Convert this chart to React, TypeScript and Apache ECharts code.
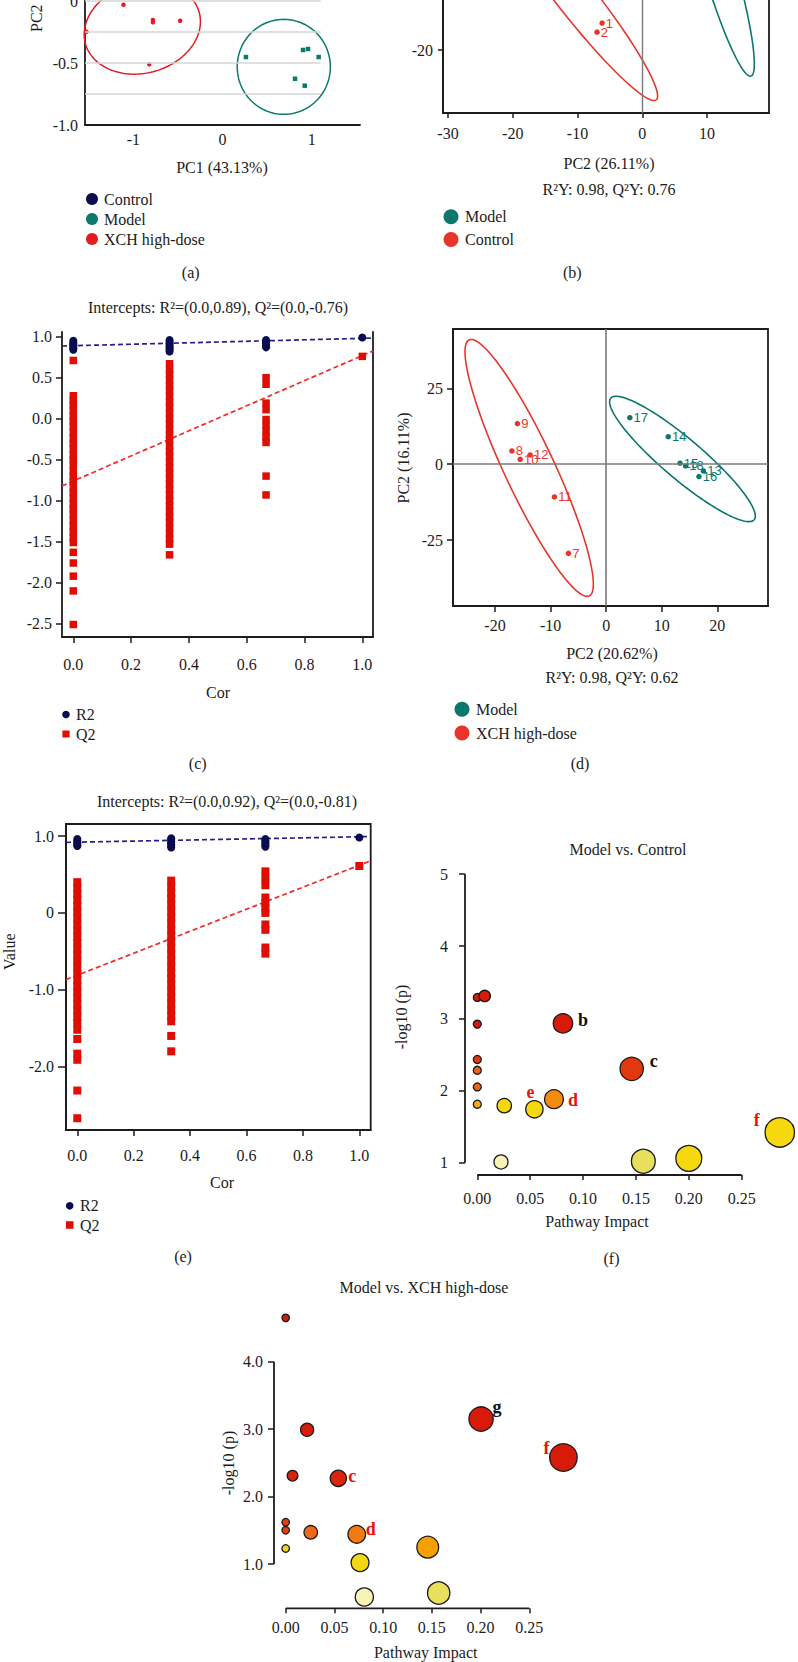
import React, { useEffect, useRef } from "react";
import * as echarts from "echarts";

const SERIF = '"Liberation Serif","Times New Roman",serif';
const SANS = '"Liberation Sans",Arial,sans-serif';
const INK = "#1c1c1c";

// ---------- (a) PCA ----------
const aXCH = [[-1.11, -0.03], [-1.525, -0.248], [-0.78, -0.153], [-0.78, -0.172], [-0.475, -0.159], [-0.821, -0.511]];
const aModel = [[0.263, -0.452], [0.903, -0.395], [0.959, -0.387], [1.078, -0.452], [0.813, -0.627], [0.922, -0.683]];
// ellipse: centre x, centre y, semi-axis vector u (x,y), semi-axis vector v (x,y)
const aEllipses = [[-0.899, -0.218, 0.64, 0.12, 0.122, -0.352], [0.687, -0.531, 0.522, 0, 0, -0.383]];
const aGridY = [0, -0.25, -0.5, -0.75];
const aGridEndX = 1.1;
const aXTicks = [-1, 0, 1];
const aYTicks = [-1, -0.5, 0];

// ---------- (b) PLS-DA Model vs Control ----------
const bControl = [[-6.2, -12.3], [-6.98, -14.9]];
const bControlIds = ["1", "2"];
const bEllipses = [[-10.2, -5.14, 12.36, -29.1, 2.31, 3.34], [11.6, 5.43, 5.19, -32.9, 2.38, 1.29]];
const bXTicks = [-30, -20, -10, 0, 10];
const bYTicks = [-20];

// ---------- (c) permutation test ----------
const cCor = [0, 0.333, 0.667, 1];
const cR2 = [
  [0.95, 0.93, 0.91, 0.9, 0.88, 0.86, 0.84],
  [0.96, 0.94, 0.92, 0.9, 0.88, 0.86, 0.84, 0.82],
  [0.96, 0.94, 0.92, 0.9, 0.88, 0.87],
  [0.99],
];
const cQ2 = [
  [0.71, 0.28, 0.22, 0.16, 0.1, 0.03, -0.03, -0.1, -0.17, -0.24, -0.3, -0.37, -0.44, -0.5, -0.57, -0.64, -0.7, -0.77, -0.84, -0.9, -0.97, -1.04, -1.1, -1.17, -1.24, -1.31, -1.38, -1.45, -1.51, -1.63, -1.76, -1.92, -2.1, -2.51],
  [0.67, 0.6, 0.54, 0.47, 0.4, 0.34, 0.27, 0.2, 0.14, 0.07, 0, -0.06, -0.13, -0.2, -0.26, -0.33, -0.4, -0.46, -0.53, -0.6, -0.66, -0.73, -0.8, -0.86, -0.93, -1.0, -1.06, -1.13, -1.2, -1.26, -1.33, -1.4, -1.47, -1.53, -1.66],
  [0.5, 0.42, 0.19, 0.11, -0.01, -0.08, -0.15, -0.22, -0.29, -0.7, -0.93],
  [0.76],
];
const cR2Fit = [0.89, 0.98];
const cQ2Fit = [-0.76, 0.77];
const cXTicks = [0, 0.2, 0.4, 0.6, 0.8, 1];
const cYTicks = [-2.5, -2, -1.5, -1, -0.5, 0, 0.5, 1];

// ---------- (d) PLS-DA Model vs XCH ----------
const dXCH = [[-6.78, -29.4], [-16.96, 4.35], [-15.96, 13.35], [-15.47, 1.6], [-9.3, -10.8], [-13.67, 3.03]];
const dXCHIds = ["7", "8", "9", "10", "11", "12"];
const dModel = [[17.5, -2.24], [11.17, 9.06], [13.3, 0.3], [16.7, -4.1], [4.26, 15.3], [14.3, -0.6]];
const dModelIds = ["13", "14", "15", "16", "17", "18"];
const dEllipses = [[-13.85, -1.25, 10.8, -42.2, 4.08, 3.49], [13.73, 1.71, 12.9, -20.04, 2.33, 5.03]];
const dXTicks = [-20, -10, 0, 10, 20];
const dYTicks = [-25, 0, 25];

// ---------- (e) permutation test ----------
const eCor = [0, 0.333, 0.667, 1];
const eR2 = [
  [0.96, 0.94, 0.92, 0.9, 0.88, 0.87],
  [0.97, 0.95, 0.93, 0.91, 0.89, 0.87, 0.85],
  [0.96, 0.94, 0.92, 0.9, 0.88, 0.86],
  [0.98],
];
const eQ2 = [
  [0.4, 0.32, 0.24, 0.17, 0.09, 0.01, -0.07, -0.15, -0.23, -0.31, -0.39, -0.47, -0.55, -0.63, -0.71, -0.79, -0.87, -0.95, -1.03, -1.11, -1.19, -1.27, -1.35, -1.43, -1.52, -1.64, -1.83, -1.91, -2.31, -2.67],
  [0.42, 0.34, 0.26, 0.18, 0.1, 0.02, -0.06, -0.14, -0.22, -0.3, -0.38, -0.46, -0.54, -0.62, -0.7, -0.78, -0.86, -0.94, -1.02, -1.1, -1.18, -1.26, -1.34, -1.41, -1.6, -1.8],
  [0.54, 0.45, 0.36, 0.2, 0.13, 0.06, 0, -0.15, -0.22, -0.45, -0.53],
  [0.61],
];
const eR2Fit = [0.92, 0.99];
const eQ2Fit = [-0.81, 0.62];
const eXTicks = [0, 0.2, 0.4, 0.6, 0.8, 1];
const eYTicks = [-2, -1, 0, 1];

// ---------- (f) pathway analysis Model vs Control ----------
const fImpact = [0, 0.007, 0, 0, 0, 0, 0, 0.0255, 0.054, 0.0725, 0.081, 0.146, 0.0224, 0.157, 0.2, 0.286];
const fLogP = [3.29, 3.31, 2.92, 2.43, 2.28, 2.05, 1.81, 1.79, 1.74, 1.88, 2.93, 2.3, 1.01, 1.02, 1.06, 1.42];
const fTags = ["", "", "", "", "", "", "", "", "e", "d", "b", "c", "", "", "", "f"];
const fXTicks = [0, 0.05, 0.1, 0.15, 0.2, 0.25];
const fYTicks = [1, 2, 3, 4, 5];

// ---------- (g) pathway analysis Model vs XCH high-dose ----------
const gImpact = [0, 0.022, 0.007, 0.054, 0, 0, 0, 0.0257, 0.0729, 0.0763, 0.0807, 0.1458, 0.157, 0.2005, 0.285];
const gLogP = [4.65, 2.99, 2.31, 2.27, 1.62, 1.5, 1.23, 1.47, 1.44, 1.02, 0.51, 1.25, 0.57, 3.15, 2.58];
const gTags = ["", "", "", "c", "", "", "", "", "d", "", "", "", "", "g", "f"];
const gXTicks = [0, 0.05, 0.1, 0.15, 0.2, 0.25];
const gYTicks = [1, 2, 3, 4];

// ---------- styles ----------
const RED_A = "#e31b23", GREEN_A = "#0b7a6a", NAVY_A = "#0d0d4b";
const RED_B = "#e8352b", GREEN_B = "#0a786d";
const NAVY = "#0b0b50", QRED = "#e00e00";
const FIT_NAVY = "#22228a", FIT_RED = "#f22a2a";
const TAG_RED = "#e8140c";
const TAG_STYLE: Record<string, Record<string, { color: string; offset: number[] }>> = {
  f: { b: { color: "#111", offset: [20, -3] }, c: { color: "#111", offset: [22, -8] }, d: { color: TAG_RED, offset: [19, 1] }, e: { color: TAG_RED, offset: [-4, -17] }, f: { color: TAG_RED, offset: [-23, -12] } },
  g: { c: { color: TAG_RED, offset: [14, -2] }, d: { color: TAG_RED, offset: [14, -5] }, g: { color: "#111", offset: [16, -12] }, f: { color: TAG_RED, offset: [-17, -9] } },
};
const F_PIECES = [
  { lt: 1.015, color: "#f7f3b8" }, { gte: 1.015, lt: 1.04, color: "#e8e05c" }, { gte: 1.04, lt: 1.8, color: "#f6d80e" },
  { gte: 1.8, lt: 1.85, color: "#f5a818" }, { gte: 1.85, lt: 2.0, color: "#f58a10" }, { gte: 2.0, lt: 2.29, color: "#ec6412" },
  { gte: 2.29, lt: 2.6, color: "#e2380e" }, { gte: 2.6, color: "#d91a0a" },
];
const G_PIECES = [
  { lt: 0.54, color: "#f7f3b8" }, { gte: 0.54, lt: 0.9, color: "#e8e05c" }, { gte: 0.9, lt: 1.245, color: "#f2d812" },
  { gte: 1.245, lt: 1.35, color: "#f5a000" }, { gte: 1.35, lt: 1.455, color: "#f27a12" }, { gte: 1.455, lt: 1.49, color: "#ee6a18" },
  { gte: 1.49, lt: 1.7, color: "#e4400e" }, { gte: 1.7, lt: 2.4, color: "#dc240c" }, { gte: 2.4, color: "#d81a0a" },
];

// ---------- layout: grid box [left, top, right, bottom] and two pixel/value calibration pairs ----------
type Lay = { box: number[]; x: number[]; y: number[] };
const LAY: Record<string, Lay> = {
  a: { box: [85, -40, 360, 125], x: [133.3, -1, 311.7, 1], y: [1, 0, 125, -1] },
  b: { box: [443, -100, 769, 113], x: [448, -30, 707, 10], y: [50, -20, -20, 0] },
  c: { box: [62, 332, 373, 637], x: [73.3, 0, 362.3, 1], y: [336.7, 1, 623.7, -2.5] },
  d: { box: [453, 329, 768, 606], x: [495, -20, 717.3, 20], y: [388.3, 25, 540, -25] },
  e: { box: [66, 824, 370.7, 1130], x: [77.3, 0, 359.3, 1], y: [836, 1, 1066.7, -2] },
  f: { box: [465, 855, 798, 1175], x: [477.3, 0, 741.7, 0.25], y: [874, 5, 1162.7, 1] },
  g: { box: [274, 1295, 600, 1608.3], x: [285.7, 0, 529.3, 0.25], y: [1361.7, 4, 1564, 1] },
};
const ORDER = ["a", "b", "c", "d", "e", "f", "g"];

function cal(p0: number, v0: number, p1: number, v1: number, e0: number, e1: number): [number, number] {
  const k = (v1 - v0) / (p1 - p0);
  const a = v0 + (e0 - p0) * k;
  const b = v0 + (e1 - p0) * k;
  return [Math.min(a, b), Math.max(a, b)];
}
const XR: Record<string, [number, number]> = {};
const YR: Record<string, [number, number]> = {};
ORDER.forEach((k) => {
  const l = LAY[k];
  XR[k] = cal(l.x[0], l.x[1], l.x[2], l.x[3], l.box[0], l.box[2]);
  YR[k] = cal(l.y[0], l.y[1], l.y[2], l.y[3], l.box[1], l.box[3]);
});

const fmtDec = (d: number) => (v: number) => v.toFixed(d);
const fmtZero1 = (v: number) => (v === 0 ? "0" : v.toFixed(1));
const fmtPlain = (v: number) => String(v);

function axis(kind: "x" | "y", gi: number, range: [number, number], ticks: number[], fmt: (v: number) => string, o: { margin: number; line?: boolean; tick?: boolean; tickLen?: number }) {
  return {
    type: "value",
    gridIndex: gi,
    min: range[0],
    max: range[1],
    position: kind === "x" ? "bottom" : "left",
    axisLine: { show: o.line !== false, onZero: false, lineStyle: { color: INK, width: 1.8 } },
    axisTick: { show: o.tick !== false, customValues: ticks, length: o.tickLen ?? 5, lineStyle: { color: INK, width: 1.5 } },
    axisLabel: { show: true, customValues: ticks, formatter: fmt, margin: o.margin, color: INK, fontSize: 16, fontFamily: SERIF },
    splitLine: { show: false },
  };
}

const flatten = (xs: number[], cols: number[][]) => cols.flatMap((col, i) => col.map((v) => [xs[i], v]));
const fit = (pair: number[], range: [number, number]) => [
  [range[0], pair[0] + (pair[1] - pair[0]) * range[0]],
  [range[1], pair[0] + (pair[1] - pair[0]) * range[1]],
];

const ellipse = (colors: string[], lw: number) => (params: any, api: any) => {
  const cx = api.value(0), cy = api.value(1), ux = api.value(2), uy = api.value(3), vx = api.value(4), vy = api.value(5);
  const pts: number[][] = [];
  for (let i = 0; i <= 160; i++) {
    const t = (i / 160) * Math.PI * 2;
    pts.push(api.coord([cx + ux * Math.cos(t) + vx * Math.sin(t), cy + uy * Math.cos(t) + vy * Math.sin(t)]));
  }
  return { type: "polyline", shape: { points: pts }, style: { stroke: colors[params.dataIndex], fill: "none", lineWidth: lw }, silent: true };
};

const axisFrame = (xt: number[], yt: number[]) => (params: any, api: any) => {
  const cs = params.coordSys;
  const yb = cs.y + cs.height;
  const x0 = api.coord([xt[0], yt[0]])[0];
  const x1 = api.coord([xt[xt.length - 1], yt[0]])[0];
  const y0 = api.coord([xt[0], yt[0]])[1];
  const y1 = api.coord([xt[0], yt[yt.length - 1]])[1];
  return {
    type: "group",
    children: [
      { type: "line", shape: { x1: x0, y1: yb, x2: x1, y2: yb }, style: { stroke: INK, lineWidth: 1.8 } },
      { type: "line", shape: { x1: cs.x, y1: y0, x2: cs.x, y2: y1 }, style: { stroke: INK, lineWidth: 1.8 } },
    ],
  };
};

const pointLabel = (color: string) => ({ show: true, position: "right", distance: 1, formatter: "{b}", color, fontSize: 13, fontFamily: SANS, opacity: 1 });

function bubbles(panel: string, impact: number[], logp: number[], tags: string[]) {
  return impact.map((x, i) => {
    const item: any = { value: [x, logp[i]] };
    const tg = tags[i];
    if (tg) {
      const st = TAG_STYLE[panel][tg];
      item.label = { show: true, position: "inside", formatter: tg, color: st.color, offset: st.offset, fontSize: 18, fontWeight: "bold", fontFamily: SERIF };
    }
    return item;
  });
}

function buildOption() {
  const grid = ORDER.map((k) => {
    const b = LAY[k].box;
    const show = k === "b" || k === "d" || k === "e";
    return { left: b[0], top: b[1], width: b[2] - b[0], height: b[3] - b[1], show, borderColor: INK, borderWidth: 1.8, backgroundColor: "transparent", containLabel: false, outerBoundsMode: "none" };
  });

  const xAxis = [
    axis("x", 0, XR.a, aXTicks, fmtPlain, { margin: 6, tick: false }),
    axis("x", 1, XR.b, bXTicks, fmtPlain, { margin: 12 }),
    axis("x", 2, XR.c, cXTicks, fmtDec(1), { margin: 19, tickLen: 6 }),
    axis("x", 3, XR.d, dXTicks, fmtPlain, { margin: 11, tickLen: 6 }),
    axis("x", 4, XR.e, eXTicks, fmtDec(1), { margin: 17, tickLen: 6 }),
    axis("x", 5, XR.f, fXTicks, fmtDec(2), { margin: 15, line: false, tickLen: 5 }),
    axis("x", 6, XR.g, gXTicks, fmtDec(2), { margin: 11, line: false, tickLen: 5 }),
  ];
  const yAxis: any[] = [
    axis("y", 0, YR.a, aYTicks, fmtZero1, { margin: 7, tick: false }),
    axis("y", 1, YR.b, bYTicks, fmtPlain, { margin: 10 }),
    axis("y", 2, YR.c, cYTicks, fmtDec(1), { margin: 10, tickLen: 6 }),
    axis("y", 3, YR.d, dYTicks, fmtPlain, { margin: 10, tickLen: 6 }),
    axis("y", 4, YR.e, eYTicks, fmtZero1, { margin: 12, tickLen: 8 }),
    axis("y", 5, YR.f, fYTicks, fmtPlain, { margin: 17, line: false, tickLen: 6 }),
    axis("y", 6, YR.g, gYTicks, fmtDec(1), { margin: 11, line: false, tickLen: 6 }),
  ];
  // right border line of panel (c)
  yAxis.push({ type: "value", gridIndex: 2, position: "right", min: YR.c[0], max: YR.c[1], axisLine: { show: true, onZero: false, lineStyle: { color: INK, width: 1.8 } }, axisTick: { show: false }, axisLabel: { show: false }, splitLine: { show: false } });

  const series: any[] = [];
  const idx: Record<string, number> = {};
  const add = (s: any, name?: string) => {
    if (name) idx[name] = series.length;
    series.push(s);
  };
  const solid = (color: string, extra: any = {}) => ({ color, opacity: 1, ...extra });

  // (a)
  add({ type: "custom", xAxisIndex: 0, yAxisIndex: 0, data: aEllipses, renderItem: ellipse([RED_A, GREEN_A], 1.5), z: 2, silent: true });
  add({
    type: "scatter", xAxisIndex: 0, yAxisIndex: 0, data: aXCH, symbol: "circle", symbolSize: 4.5, itemStyle: solid(RED_A), z: 3, silent: true,
    markLine: { silent: true, symbol: ["none", "none"], label: { show: false }, lineStyle: { color: "#d6d6d6", width: 1.5, type: "solid" }, data: aGridY.map((y) => [{ coord: [XR.a[0], y] }, { coord: [aGridEndX, y] }]) },
  });
  add({ type: "scatter", xAxisIndex: 0, yAxisIndex: 0, data: aModel, symbol: "rect", symbolSize: 4.5, itemStyle: solid(GREEN_A), z: 3, silent: true });

  // (b)
  add({ type: "custom", xAxisIndex: 1, yAxisIndex: 1, data: bEllipses, renderItem: ellipse([RED_B, GREEN_B], 1.6), z: 2, silent: true });
  add({
    type: "scatter", xAxisIndex: 1, yAxisIndex: 1, data: bControl.map((v, i) => ({ value: v, name: bControlIds[i] })), symbol: "circle", symbolSize: 5.5,
    itemStyle: solid(RED_B), label: pointLabel(RED_B), z: 3, silent: true,
    markLine: { silent: true, symbol: ["none", "none"], label: { show: false }, lineStyle: { color: "#7a7a7a", width: 1.4, type: "solid" }, data: [{ xAxis: 0 }, { yAxis: 0 }] },
  });

  // (c)
  add({ type: "line", xAxisIndex: 2, yAxisIndex: 2, data: fit(cR2Fit, XR.c), showSymbol: false, symbol: "none", lineStyle: { color: FIT_NAVY, width: 1.7, type: [5, 3] }, z: 2, silent: true });
  add({ type: "line", xAxisIndex: 2, yAxisIndex: 2, data: fit(cQ2Fit, XR.c), showSymbol: false, symbol: "none", lineStyle: { color: FIT_RED, width: 1.7, type: [5, 3] }, z: 2, silent: true });
  add({ type: "scatter", xAxisIndex: 2, yAxisIndex: 2, data: flatten(cCor, cR2), symbol: "circle", symbolSize: 8, itemStyle: solid(NAVY), z: 3, silent: true });
  add({ type: "scatter", xAxisIndex: 2, yAxisIndex: 2, data: flatten(cCor, cQ2), symbol: "rect", symbolSize: 7.5, itemStyle: solid(QRED), z: 3, silent: true });

  // (d)
  add({ type: "custom", xAxisIndex: 3, yAxisIndex: 3, data: dEllipses, renderItem: ellipse([RED_B, GREEN_B], 1.6), z: 2, silent: true });
  add({
    type: "scatter", xAxisIndex: 3, yAxisIndex: 3, data: dXCH.map((v, i) => ({ value: v, name: dXCHIds[i] })), symbol: "circle", symbolSize: 5.5,
    itemStyle: solid(RED_B), label: pointLabel(RED_B), z: 3, silent: true,
    markLine: { silent: true, symbol: ["none", "none"], label: { show: false }, lineStyle: { color: "#7a7a7a", width: 1.6, type: "solid" }, data: [{ xAxis: 0 }, { yAxis: 0 }] },
  });
  add({ type: "scatter", xAxisIndex: 3, yAxisIndex: 3, data: dModel.map((v, i) => ({ value: v, name: dModelIds[i] })), symbol: "circle", symbolSize: 5.5, itemStyle: solid(GREEN_B), label: pointLabel(GREEN_B), z: 3, silent: true });

  // (e)
  add({ type: "line", xAxisIndex: 4, yAxisIndex: 4, data: fit(eR2Fit, XR.e), showSymbol: false, symbol: "none", lineStyle: { color: FIT_NAVY, width: 1.7, type: [5, 3] }, z: 2, silent: true });
  add({ type: "line", xAxisIndex: 4, yAxisIndex: 4, data: fit(eQ2Fit, XR.e), showSymbol: false, symbol: "none", lineStyle: { color: FIT_RED, width: 1.7, type: [5, 3] }, z: 2, silent: true });
  add({ type: "scatter", xAxisIndex: 4, yAxisIndex: 4, data: flatten(eCor, eR2), symbol: "circle", symbolSize: 8, itemStyle: solid(NAVY), z: 3, silent: true });
  add({ type: "scatter", xAxisIndex: 4, yAxisIndex: 4, data: flatten(eCor, eQ2), symbol: "rect", symbolSize: 8, itemStyle: solid(QRED), z: 3, silent: true });

  // (f)
  add({ type: "custom", xAxisIndex: 5, yAxisIndex: 5, data: [[fXTicks[0], fYTicks[0]]], renderItem: axisFrame(fXTicks, fYTicks), z: 1, silent: true });
  add({
    type: "scatter", xAxisIndex: 5, yAxisIndex: 5, data: bubbles("f", fImpact, fLogP, fTags), symbol: "circle",
    symbolSize: (v: number[]) => 8 + 40 * Math.sqrt(v[0]), itemStyle: solid("#f6d80e", { borderColor: "#1a1a1a", borderWidth: 1.3 }), z: 3, silent: true,
  }, "f");

  // (g)
  add({ type: "custom", xAxisIndex: 6, yAxisIndex: 6, data: [[gXTicks[0], gYTicks[0]]], renderItem: axisFrame(gXTicks, gYTicks), z: 1, silent: true });
  add({
    type: "scatter", xAxisIndex: 6, yAxisIndex: 6, data: bubbles("g", gImpact, gLogP, gTags), symbol: "circle",
    symbolSize: (v: number[]) => 7.5 + 37.5 * Math.sqrt(v[0]), itemStyle: solid("#f6d80e", { borderColor: "#1a1a1a", borderWidth: 1.3 }), z: 3, silent: true,
  }, "g");

  const visualMap = [
    { type: "piecewise", show: false, seriesIndex: idx.f, dimension: 1, pieces: F_PIECES, inRange: { opacity: 1 } },
    { type: "piecewise", show: false, seriesIndex: idx.g, dimension: 1, pieces: G_PIECES, inRange: { opacity: 1 } },
  ];

  // ---------- texts, legends ----------
  const T = (text: string, x: number, y: number, o: any = {}) => ({
    type: "text", x, y, rotation: o.rot ? Math.PI / 2 : 0, z: 10, silent: true,
    style: { text, fill: INK, fontSize: o.size ?? 16, fontFamily: SERIF, align: o.align ?? "center", verticalAlign: "middle", textAlign: o.align ?? "center", textVerticalAlign: "middle" },
  });
  const LC = (color: string, label: string, x: number, y: number, r: number, tx: number, square = false) => [
    square
      ? { type: "rect", shape: { x: x - r, y: y - r, width: 2 * r, height: 2 * r }, style: { fill: color }, z: 10, silent: true }
      : { type: "circle", shape: { cx: x, cy: y, r }, style: { fill: color }, z: 10, silent: true },
    T(label, tx, y, { align: "left" }),
  ];

  const elements: any[] = [
    // (a)
    T("PC2", 36, 32, { rot: true, align: "left" }),
    T("PC1 (43.13%)", 222, 167),
    ...LC(NAVY_A, "Control", 92, 199, 6, 104),
    ...LC(GREEN_A, "Model", 92, 219, 6, 104),
    ...LC(RED_A, "XCH high-dose", 92, 239, 6, 104),
    T("(a)", 190.7, 272.7),
    // (b)
    T("PC2 (26.11%)", 609, 163),
    T("R²Y: 0.98, Q²Y: 0.76", 609, 189),
    ...LC(GREEN_B, "Model", 451, 216.7, 7.5, 465),
    ...LC(RED_B, "Control", 451, 239.5, 7.5, 465),
    T("(b)", 572.3, 272.7),
    // (c)
    T("Intercepts: R²=(0.0,0.89), Q²=(0.0,-0.76)", 218, 307),
    T("Cor", 218, 692),
    ...LC(NAVY, "R2", 66, 714.5, 3.8, 76),
    ...LC(QRED, "Q2", 66, 734, 3.6, 76, true),
    T("(c)", 197.7, 763.3),
    // (d)
    T("PC2 (16.11%)", 403.5, 458, { rot: true }),
    T("PC2 (20.62%)", 612, 653),
    T("R²Y: 0.98, Q²Y: 0.62", 612, 677),
    ...LC(GREEN_B, "Model", 462, 709.3, 7.5, 476),
    ...LC(RED_B, "XCH high-dose", 462, 733, 7.5, 476),
    T("(d)", 580, 763.3),
    // (e)
    T("Intercepts: R²=(0.0,0.92), Q²=(0.0,-0.81)", 227, 801.7),
    T("Value", 9.5, 951.7, { rot: true }),
    T("Cor", 222, 1182),
    ...LC(NAVY, "R2", 69.7, 1205.8, 3.8, 80),
    ...LC(QRED, "Q2", 69.7, 1225, 3.8, 80, true),
    T("(e)", 183, 1256.7),
    // (f)
    T("Model vs. Control", 628, 849),
    T("-log10 (p)", 401.5, 1017, { rot: true }),
    T("Pathway Impact", 597, 1221),
    T("(f)", 611.5, 1258),
    // (g)
    T("Model vs. XCH high-dose", 424, 1287.3),
    T("-log10 (p)", 228.3, 1463, { rot: true }),
    T("Pathway Impact", 425.7, 1652.7),
  ];

  return {
    animation: false,
    backgroundColor: "#ffffff",
    textStyle: { fontFamily: SERIF },
    grid,
    xAxis,
    yAxis,
    visualMap,
    series,
    graphic: { elements },
  };
}

export default function App() {
  const ref = useRef<HTMLDivElement>(null);
  useEffect(() => {
    document.body.style.margin = "0";
    if (!ref.current) return;
    const chart = echarts.init(ref.current, null, { renderer: "svg" });
    chart.setOption(buildOption() as any);
    return () => chart.dispose();
  }, []);
  return <div ref={ref} style={{ width: 798, height: 1662, background: "#fff" }} />;
}
